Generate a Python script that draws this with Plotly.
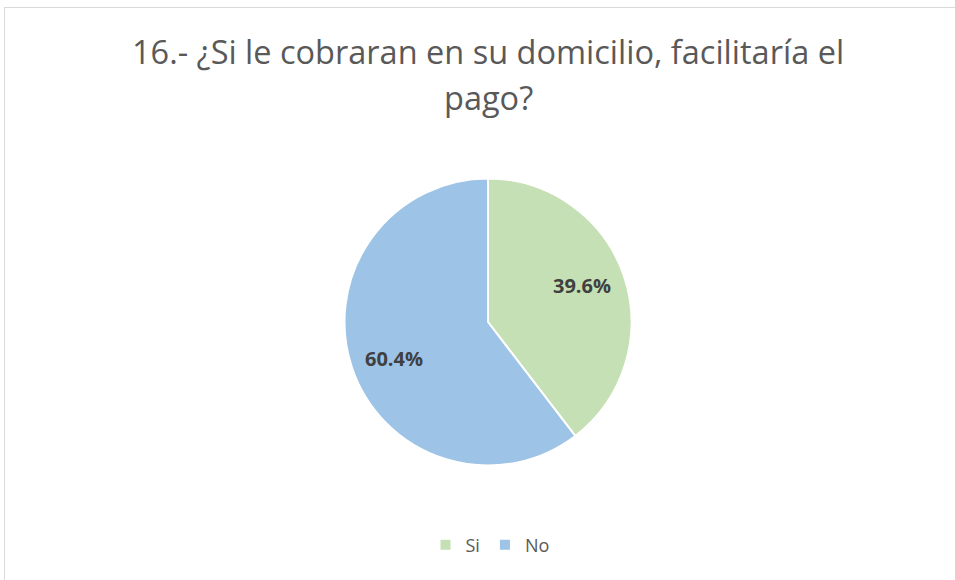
import math
import plotly.graph_objects as go

# Survey answers and their shares (%)
labels = ["Si", "No"]
values = [39.6, 60.4]
colors = ["#C5E0B4", "#9DC3E6"]

title_lines = ["16.- ¿Si le cobraran en su domicilio, facilitaría el", "pago?"]

W, H = 955, 580
cx, cy, r = 488, 322, 143.5

fig = go.Figure(
    go.Pie(
        labels=labels,
        values=values,
        sort=False,
        direction="clockwise",
        rotation=0,
        marker=dict(colors=colors, line=dict(color="white", width=2)),
        textinfo="none",
        hoverinfo="label+percent",
        domain=dict(x=[(cx - r) / W, (cx + r) / W], y=[1 - (cy + r) / H, 1 - (cy - r) / H]),
    )
)

# Percentage labels placed at each slice's mid-angle
annotations = []
total = sum(values)
start = 0.0
for v in values:
    frac = v / total
    mid = (start + frac / 2) * 2 * math.pi - math.radians(2.5)
    start += frac
    d = 0.70 * r
    px = cx + d * math.sin(mid)
    py = cy - d * math.cos(mid)
    annotations.append(dict(
        x=px / W, y=1 - py / H, xref="paper", yref="paper",
        text=f"<b>{v:.1f}%</b>", showarrow=False,
        font=dict(family="Open Sans", size=20, color="#404040"),
        xanchor="center", yanchor="middle",
    ))

# Two-line chart title
for line, ty in zip(title_lines, [52, 97]):
    annotations.append(dict(
        x=488 / W, y=1 - ty / H, xref="paper", yref="paper",
        text=line, showarrow=False,
        font=dict(family="Open Sans", size=32.5, color="#595959"),
        xanchor="center", yanchor="middle",
    ))

fig.update_layout(
    width=W,
    height=H,
    margin=dict(l=0, r=0, t=0, b=0),
    paper_bgcolor="white",
    plot_bgcolor="white",
    annotations=annotations,
    legend=dict(
        orientation="h",
        x=490 / W,
        xanchor="center",
        y=1 - 545 / H,
        yanchor="middle",
        font=dict(family="Open Sans", size=18, color="#595959"),
        itemwidth=30,
    ),
    shapes=[
        dict(type="line", xref="paper", yref="paper", x0=4 / W, x1=1.0, y0=1 - 7.5 / H, y1=1 - 7.5 / H,
             line=dict(color="#D9D9D9", width=1)),
        dict(type="line", xref="paper", yref="paper", x0=4.5 / W, x1=4.5 / W, y0=0, y1=1 - 7 / H,
             line=dict(color="#D9D9D9", width=1)),
    ],
)

fig.write_html("out.html")
